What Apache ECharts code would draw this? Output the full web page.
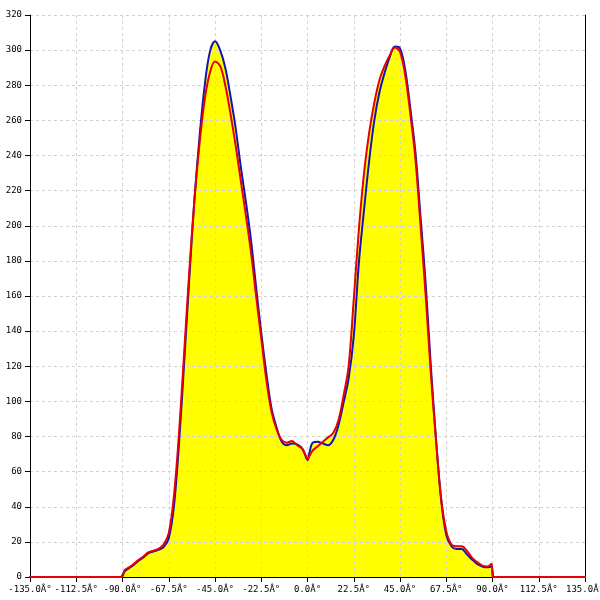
<!DOCTYPE html>
<html>
<head>
<meta charset="utf-8">
<script src="https://cdn.jsdelivr.net/npm/echarts@6/dist/echarts.min.js"></script>
<style>html,body{margin:0;padding:0;background:#fff}#chart{width:600px;height:600px}</style>
</head>
<body>
<div id="chart"></div>
<script>
const angles = [-90.5, -89, -87.5, -85, -82.5, -80, -77.5, -75, -72.5, -70, -67.5, -65, -62.5, -60, -57.5, -55, -52.5, -50, -47.5, -45, -42.5, -40, -37.5, -35, -32.5, -30, -27.5, -25, -22.5, -20, -17.5, -15, -12.5, -10, -7.5, -5, -2.5, -1, 0, 1, 2.5, 5, 7.5, 10, 12.5, 15, 17.5, 20, 22.5, 25, 27.5, 30, 32.5, 35, 37.5, 40, 42.5, 45, 47.5, 50, 52.5, 55, 57.5, 60, 62.5, 65, 67.5, 70, 72.5, 75, 77.5, 80, 82.5, 85, 87.5, 89.5, 90.2];
const blueValues = [0, 3, 4.5, 6.5, 9, 11, 13.5, 14.5, 15.5, 17, 22, 40, 76, 122, 170, 215, 251, 280, 299, 305, 300, 290, 274, 256, 234, 214, 192, 165, 139, 116, 96, 85, 77, 75, 76, 75.5, 73, 69, 66.5, 71, 76.5, 77, 76, 75, 78, 86, 99, 113, 137, 179, 209, 237, 260, 276, 287, 296, 302, 301, 289, 267, 242, 205, 167, 120, 79, 44, 24, 17.5, 16, 16, 13, 10, 7.5, 6, 5.5, 6, 0];
const redValues = [0, 4, 5, 7, 9.5, 11.5, 14, 15, 16, 18.5, 25, 46, 82, 128, 174, 215, 247, 272, 287, 293.5, 291, 280, 264, 246, 226, 206, 185, 160, 136, 112, 94, 84, 78, 76.5, 77.5, 75, 73, 69.5, 67, 69, 72, 74.5, 77, 79.5, 82, 89, 103, 120, 158, 198, 230, 253, 270, 283, 291, 297, 301.5, 299, 286, 264, 238, 200, 160, 116, 78, 45, 26, 18.5, 17.5, 17.5, 15, 11, 8.5, 6.5, 6, 7.5, 0];
const redBaselineEnds = [-150, 150];
const xTickLabels = ['-135.0Â°', '-112.5Â°', '-90.0Â°', '-67.5Â°', '-45.0Â°', '-22.5Â°', '0.0Â°', '22.5Â°', '45.0Â°', '67.5Â°', '90.0Â°', '112.5Â°', '135.0Â°'];
const yTickLabels = ['0', '20', '40', '60', '80', '100', '120', '140', '160', '180', '200', '220', '240', '260', '280', '300', '320'];

const blueData = angles.map((a, i) => [a, blueValues[i]]);
const redData = [[redBaselineEnds[0], 0]].concat(angles.map((a, i) => [a, redValues[i]]), [[redBaselineEnds[1], 0]]);

const chart = echarts.init(document.getElementById('chart'), null, {renderer: 'canvas'});
const labelFont = {fontFamily: 'DejaVu Sans Mono', fontSize: 9, color: '#000'};
const dashed = {show: true, lineStyle: {color: '#d2d2d2', type: [3, 3], width: 1}};
const SMOOTH = 0.35;
chart.setOption({
  animation: false,
  backgroundColor: '#fff',
  grid: {left: 30, right: 15, top: 15, bottom: 23, containLabel: false, outerBoundsMode: 'none'},
  xAxis: {
    type: 'value', min: -135, max: 135, interval: 22.5, z: 2,
    axisLine: {show: true, onZero: false, lineStyle: {color: '#000', width: 1}},
    axisTick: {show: true, length: 5, lineStyle: {color: '#000'}},
    axisLabel: Object.assign({margin: 8, hideOverlap: false, formatter: (v, i) => xTickLabels[i]}, labelFont),
    splitLine: dashed
  },
  yAxis: [{
    type: 'value', min: 0, max: 320, interval: 20, z: 2, position: 'left',
    axisLine: {show: true, onZero: false, lineStyle: {color: '#000', width: 1}},
    axisTick: {show: true, length: 5, lineStyle: {color: '#000'}},
    axisLabel: Object.assign({margin: 8, formatter: (v, i) => yTickLabels[i]}, labelFont),
    splitLine: dashed
  }, {
    type: 'value', min: 0, max: 320, interval: 20, position: 'right', z: 2,
    axisLine: {show: true, onZero: false, lineStyle: {color: '#000', width: 1}},
    axisTick: {show: false}, axisLabel: {show: false}, splitLine: {show: false}
  }],
  series: [
    {type: 'line', data: blueData, smooth: SMOOTH, showSymbol: false, z: 1,
     lineStyle: {width: 0}, areaStyle: {color: '#ffff00', opacity: 1}},
    {type: 'line', data: redData, smooth: SMOOTH, showSymbol: false, z: 1, clip: false,
     lineStyle: {width: 0}, areaStyle: {color: '#ffff00', opacity: 1}},
    {type: 'line', data: blueData, smooth: SMOOTH, showSymbol: false, z: 3,
     lineStyle: {width: 2, color: '#1414b4'}},
    {type: 'line', data: redData, smooth: SMOOTH, showSymbol: false, z: 4, clip: false,
     lineStyle: {width: 2, color: '#e60000'}}
  ]
});
</script>
</body>
</html>
